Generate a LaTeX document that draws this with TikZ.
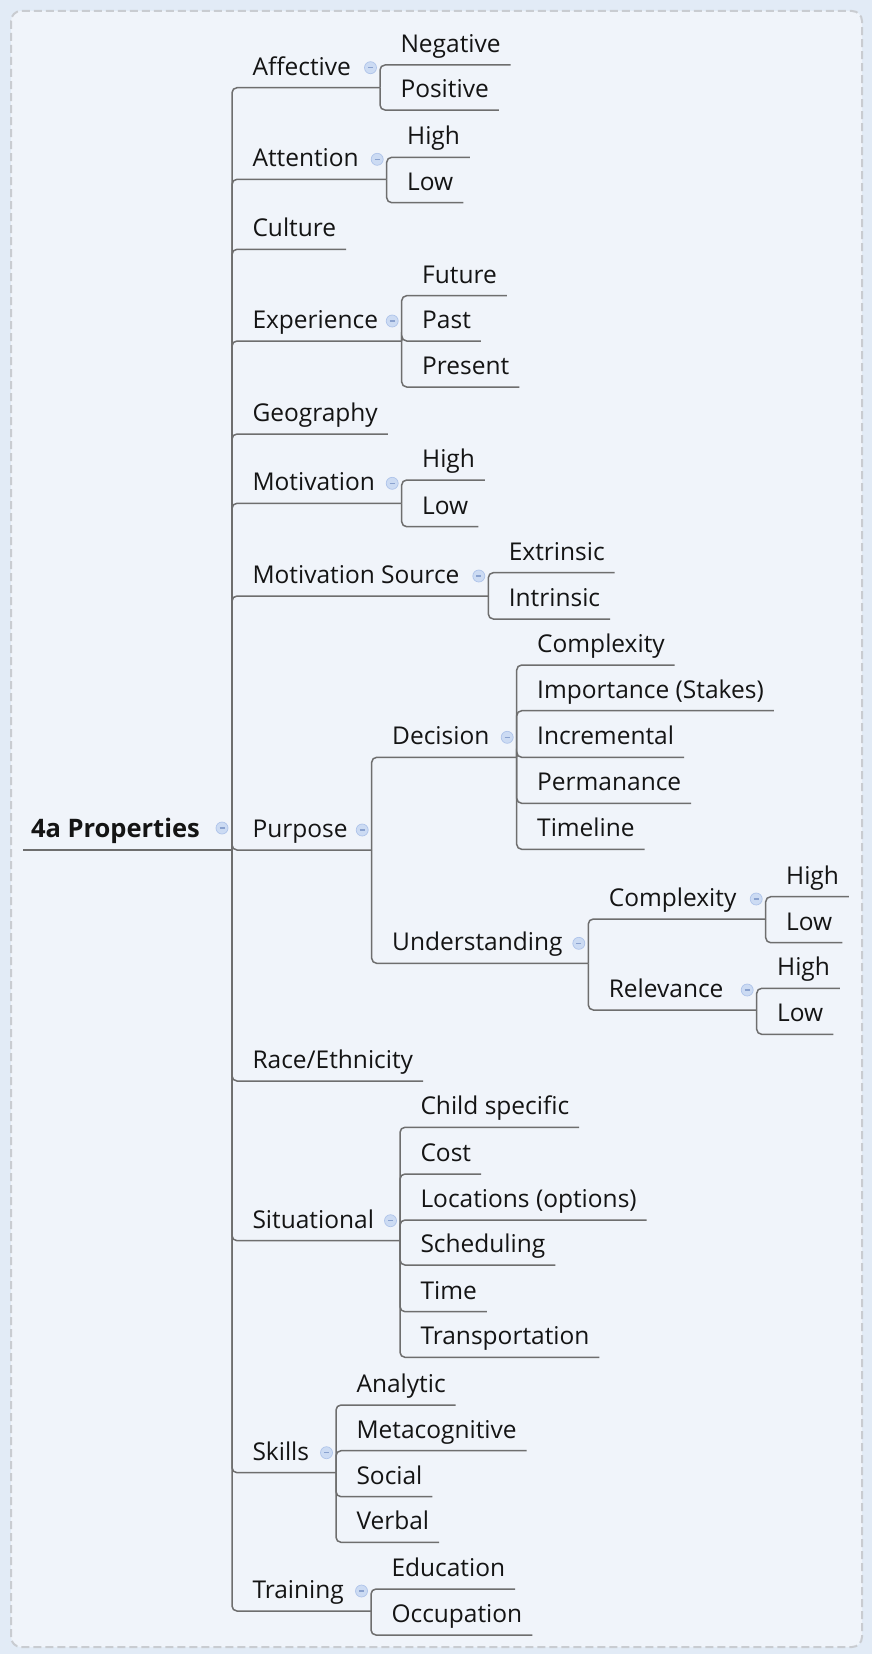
\documentclass[tikz,border=0pt]{standalone}
\usepackage{fontspec}
\setmainfont{Open Sans}
\usetikzlibrary{calc}

\definecolor{pagebg}{HTML}{E2EBF6}
\definecolor{sheetbg}{HTML}{F0F4FA}
\definecolor{framegray}{HTML}{C9CCD1}
\definecolor{linegray}{HTML}{6E6E6E}
\definecolor{inkc}{HTML}{141414}
\definecolor{markfill}{HTML}{CCDBF3}
\definecolor{markedge}{HTML}{AFC4EA}
\definecolor{markminus}{HTML}{8AA2CF}

\tikzset{
  topic/.style={anchor=south west, inner sep=0pt, outer sep=0pt, text depth=12.5pt,
    text=inkc, font=\fontsize{24.5}{28}\selectfont},
  roottopic/.style={topic, font=\fontsize{25.5}{30}\selectfont\bfseries},
  conn/.style={draw=linegray, line width=1.5pt, rounded corners=5pt},
  marker/.style={circle, inner sep=0pt, minimum size=12pt, fill=markfill,
    draw=markedge, line width=0.7pt, text=markminus},
}

% a topic without children: text above its underline, underline a bit past the text
\newcommand\leaftopic[4]{%
  \coordinate (#1-l) at (#2,#3);
  \node[topic] (#1) at ([xshift=20.5pt]#1-l) {#4};
  \coordinate (#1-r) at ([xshift=10pt]#1.south east);}
% a topic with children: underline runs to its own branching point, with a collapse marker
\newcommand\parenttopic[5]{%
  \coordinate (#1-l) at (#2,#3);
  \node[topic] (#1) at ([xshift=20.5pt]#1-l) {#5};
  \coordinate (#1-r) at (#4,#3);
  \node[marker] (#1-m) at ([xshift=-9.5pt,yshift=20pt]#1-r) {\rule[-0.6pt]{5pt}{1.2pt}};}

\begin{document}
\begin{tikzpicture}[x=1pt, y=-1pt]
  \useasboundingbox (0,0) rectangle (872,1654);
  \fill[pagebg] (0,0) rectangle (872,1654);
  \draw[framegray, line width=2pt, dash pattern=on 8pt off 4pt, fill=sheetbg,
    rounded corners=10pt] (11,11) rectangle (862,1647);

  % central topic
  \coordinate (root-l) at (23,850);
  \coordinate (root-r) at (232,850);
  \node[roottopic] (root) at (31,850) {4a Properties};
  \node[marker] (root-m) at ([xshift=-10pt,yshift=22pt]root-r) {\rule[-0.6pt]{5pt}{1.2pt}};
  \draw[conn] (root-l) -- (root-r);

  % main branches and their subtopics
  \parenttopic{affective}{232}{87.7}{380}{Affective}
  \leaftopic{aff-neg}{380}{65}{Negative}
  \leaftopic{aff-pos}{380}{110}{Positive}

  \parenttopic{attention}{232}{179.3}{386.7}{Attention}
  \leaftopic{att-high}{386.7}{157.3}{High}
  \leaftopic{att-low}{386.7}{202.7}{Low}

  \leaftopic{culture}{232}{249.3}{Culture}

  \parenttopic{experience}{232}{341}{401.7}{Experience}
  \leaftopic{exp-future}{401.7}{295.7}{Future}
  \leaftopic{exp-past}{401.7}{341}{Past}
  \leaftopic{exp-present}{401.7}{387}{Present}

  \leaftopic{geography}{232}{434}{Geography}

  \parenttopic{motivation}{232}{503.3}{401.7}{Motivation}
  \leaftopic{mot-high}{401.7}{480}{High}
  \leaftopic{mot-low}{401.7}{526.7}{Low}

  \parenttopic{motsrc}{232}{596}{488.3}{Motivation Source}
  \leaftopic{ms-ext}{488.3}{572.7}{Extrinsic}
  \leaftopic{ms-int}{488.3}{619}{Intrinsic}

  \parenttopic{purpose}{232}{850}{371.7}{Purpose}
  \parenttopic{decision}{371.7}{757.3}{516.7}{Decision}
  \leaftopic{dec-cx}{516.7}{665}{Complexity}
  \leaftopic{dec-imp}{516.7}{710.7}{Importance (Stakes)}
  \leaftopic{dec-inc}{516.7}{757.3}{Incremental}
  \leaftopic{dec-perm}{516.7}{803.3}{Permanance}
  \leaftopic{dec-time}{516.7}{849.3}{Timeline}
  \parenttopic{understanding}{371.7}{963.3}{588.3}{Understanding}
  \parenttopic{und-cx}{588.3}{919}{765.7}{Complexity}
  \leaftopic{cx-high}{765.7}{896.7}{High}
  \leaftopic{cx-low}{765.7}{942.7}{Low}
  \parenttopic{und-rel}{588.3}{1010}{756.7}{Relevance}
  \leaftopic{rel-high}{756.7}{988.3}{High}
  \leaftopic{rel-low}{756.7}{1034.3}{Low}

  \leaftopic{race}{232}{1081}{Race/Ethnicity}

  \parenttopic{situational}{232}{1240.7}{400}{Situational}
  \leaftopic{sit-child}{400}{1127.3}{Child specific}
  \leaftopic{sit-cost}{400}{1174}{Cost}
  \leaftopic{sit-loc}{400}{1220}{Locations (options)}
  \leaftopic{sit-sched}{400}{1265}{Scheduling}
  \leaftopic{sit-time}{400}{1311.7}{Time}
  \leaftopic{sit-trans}{400}{1357.3}{Transportation}

  \parenttopic{skills}{232}{1472.7}{336}{Skills}
  \leaftopic{sk-ana}{336}{1405}{Analytic}
  \leaftopic{sk-meta}{336}{1450.7}{Metacognitive}
  \leaftopic{sk-soc}{336}{1496.7}{Social}
  \leaftopic{sk-verb}{336}{1542.3}{Verbal}

  \parenttopic{training}{232}{1611}{371}{Training}
  \leaftopic{tr-edu}{371}{1589}{Education}
  \leaftopic{tr-occ}{371}{1635}{Occupation}

  % elbow connectors from each parent's branching point to each child's underline
  \foreach \p/\c in {root/affective, root/attention, root/culture, root/experience,
      root/geography, root/motivation, root/motsrc, root/purpose, root/race,
      root/situational, root/skills, root/training,
      affective/aff-neg, affective/aff-pos,
      attention/att-high, attention/att-low,
      experience/exp-future, experience/exp-past, experience/exp-present,
      motivation/mot-high, motivation/mot-low,
      motsrc/ms-ext, motsrc/ms-int,
      purpose/decision, purpose/understanding,
      decision/dec-cx, decision/dec-imp, decision/dec-inc, decision/dec-perm, decision/dec-time,
      understanding/und-cx, understanding/und-rel,
      und-cx/cx-high, und-cx/cx-low, und-rel/rel-high, und-rel/rel-low,
      situational/sit-child, situational/sit-cost, situational/sit-loc,
      situational/sit-sched, situational/sit-time, situational/sit-trans,
      skills/sk-ana, skills/sk-meta, skills/sk-soc, skills/sk-verb,
      training/tr-edu, training/tr-occ}
    {\draw[conn] (\p-r) |- (\c-r);}
\end{tikzpicture}
\end{document}
